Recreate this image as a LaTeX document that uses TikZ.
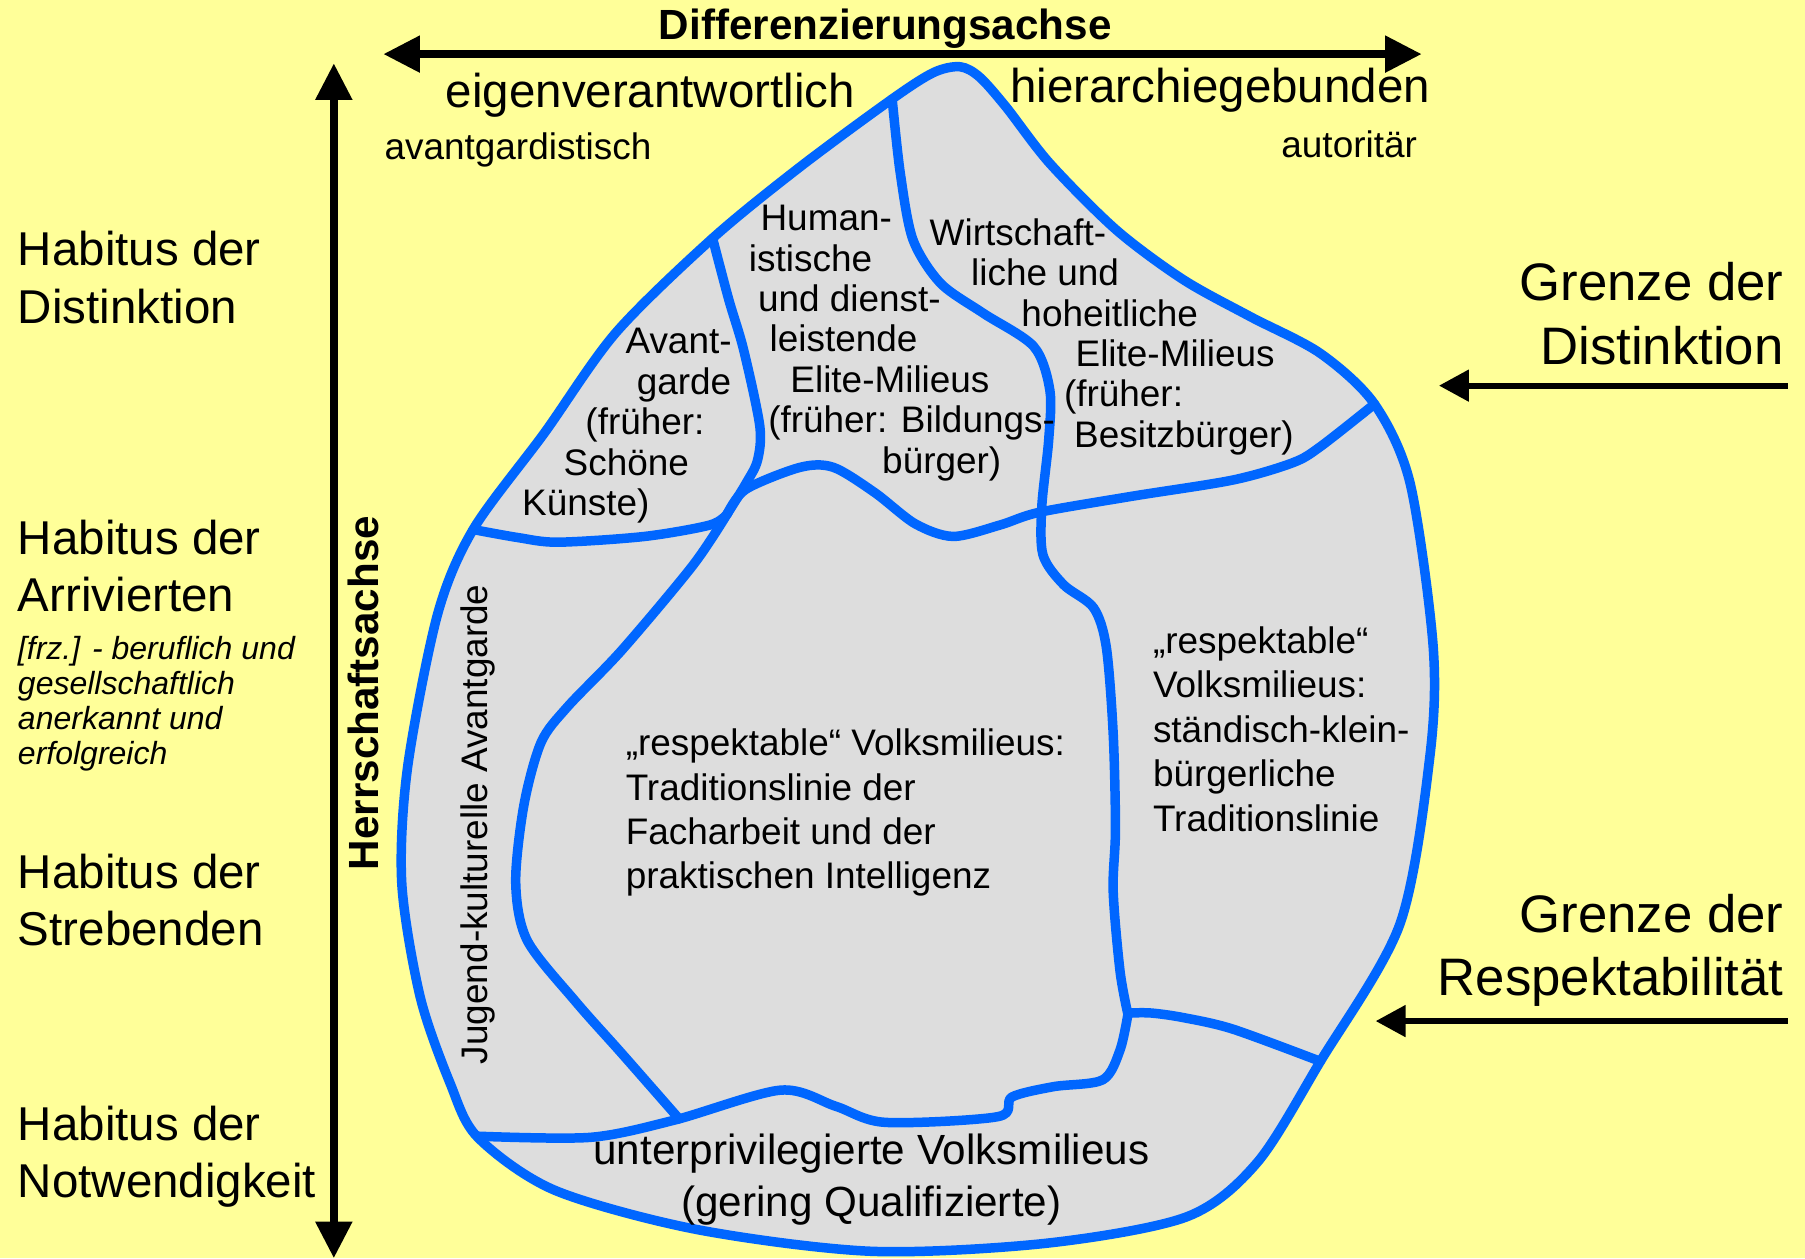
\documentclass[tikz,border=0pt]{standalone}
\usepackage{fontspec}
\setmainfont{Liberation Sans}
\usetikzlibrary{arrows.meta}
\definecolor{milieublue}{HTML}{0066FF}
\definecolor{leafgray}{HTML}{DDDDDD}
\definecolor{paper}{HTML}{FFFF99}

\begin{document}
\begin{tikzpicture}[x=0.011512cm,y=-0.011512cm,
    leaf/.style={fill=leafgray,draw=milieublue,line width=2.7pt,line join=round},
    border/.style={draw=milieublue,line width=2.7pt,line cap=round,line join=round},
    axis/.style={line width=2.2pt,{Triangle[length=10.4pt,width=10pt]}-{Triangle[length=10.4pt,width=10pt]}},
    limit/.style={line width=1.7pt,-{Triangle[length=8.5pt,width=8.7pt]}},
    habitus/.style={anchor=west,align=left,inner sep=0pt,font={\fontsize{13.5}{16.3}\selectfont}},
    grenze/.style={anchor=east,align=right,inner sep=0pt,font={\fontsize{15}{18}\selectfont}},
    milieu/.style={anchor=west,align=left,inner sep=0pt,font={\fontsize{10.5}{11.5}\selectfont}},
    axislabel/.style={inner sep=0pt,font={\fontsize{12}{14}\selectfont\bfseries}}]

    \fill[paper] (0,0) rectangle (1568,1093);
    \useasboundingbox (0,0) rectangle (1568,1093);

    \begin{scope}
    %leaf outline
    \path[leaf] plot[smooth cycle] coordinates {(775,86) (811,63) (834,58) (851,67) (874,93)
        (912,142) (970,200) (1028,243) (1086,275) (1147,307) (1194,351) (1225,420) (1245,562)
        (1242,658) (1216,803) (1147,922) (1092,1010) (1031,1057) (909,1080) (757,1087)
        (605,1068) (482,1034) (415,988) (391,941) (365,866) (349,767) (354,667) (380,534)
        (411,460) (473,376) (535,289) (619,207) (695,145)};

    %milieu borders
    \draw[border] plot[smooth] coordinates {(775,86) (782,150) (793,208) (817,246) (854,272)
        (898,301) (912,339) (911,382) (905,440) (906,482) (924,508) (950,528) (961,562)
        (967,637) (969,720) (967,774) (973,844) (980,882)};
    \draw[border] plot[smooth] coordinates {(619,207) (633,260) (646,304) (660,370) (658,400)
        (648,420) (632,446)};
    \draw[border] plot[smooth] coordinates {(411,460) (450,467) (485,471) (560,466) (617,456) (632,446)};
    \draw[border] plot[smooth] coordinates {(632,446) (602,491) (540,565) (493,614) (470,645)
        (455,700) (448,767) (458,817) (500,870) (540,915) (590,972)};
    \draw[border] plot[smooth] coordinates {(632,446) (648,425) (695,406) (724,406) (760,428)
        (795,455) (828,466) (869,456) (903,445) (984,431) (1071,417) (1123,402) (1147,388) (1194,351)};
    \draw[border] plot[smooth] coordinates {(415,987) (513,988) (586,973) (678,947) (726,961)
        (769,975) (867,970) (879,953) (915,944) (958,938) (973,912) (980,880)};
    \draw[border] plot[smooth] coordinates {(980,880) (1000,880) (1028,884) (1071,894) (1147,922)};
    \end{scope}

    %axes
    \coordinate (dl) at (333,47);
    \coordinate (dr) at (1235,47);
    \draw[axis] (dl) -- (dr);
    \node[axislabel] (dachse) at (769,25) {Differenzierungsachse};
    \coordinate (ht) at (290,55);
    \coordinate (hb) at (290,1093);
    \draw[axis] (ht) -- (hb);
    \node[axislabel,rotate=90] (hachse) at (316,602) {Herrschaftsachse};

    %poles of the horizontal axis
    \node[inner sep=0pt,font={\fontsize{13.5}{16}\selectfont}] (eigen) at (565,83) {eigenverantwortlich};
    \node[inner sep=0pt,font={\fontsize{13.5}{16}\selectfont}] (hier) at (1060,78) {hierarchiegebunden};
    \node[inner sep=0pt,font={\fontsize{10.5}{12}\selectfont}] (avg) at (450,130) {avantgardistisch};
    \node[inner sep=0pt,font={\fontsize{10.5}{12}\selectfont}] (auto) at (1172,125) {autoritär};

    %habitus
    \node[habitus] (hdist) at (15,241) {Habitus der\\Distinktion};
    \node[habitus] (harr) at (15,492) {Habitus der\\Arrivierten};
    \node[habitus,font={\fontsize{9.1}{9.9}\selectfont\itshape}] (hnote) at (15,611.5)
        {[frz.] - beruflich und\\gesellschaftlich\\anerkannt und\\erfolgreich};
    \node[habitus] (hstreb) at (15,782) {Habitus der\\Strebenden};
    \node[habitus] (hnot) at (15,1005) {Habitus der\\Notwendigkeit};

    %grenzen
    \node[grenze] (gdist) at (1550,272.5) {Grenze der\\Distinktion};
    \coordinate (gdtail) at (1553,335);
    \coordinate (gdtip) at (1250,335);
    \draw[limit] (gdtail) -- (gdtip);
    \node[grenze] (gresp) at (1550,825.5) {Grenze der\\Respektabilität};
    \coordinate (grtail) at (1553,887);
    \coordinate (grtip) at (1195,887);
    \draw[limit] (grtail) -- (grtip);

    %milieus
    \node[milieu] (avant) at (453,370) {\hspace*{29.4pt}Avant-\\\hspace*{32.6pt}garde\\
        \hspace*{18pt}(früher:\\\hspace*{11.8pt}Schöne\\Künste)};
    \node[milieu] (human) at (650,298) {\hspace*{3.3pt}Human-\\istische\\\hspace*{2.6pt}und dienst-\\
        \hspace*{5.9pt}leistende\\\hspace*{11.8pt}Elite-Milieus\\\hspace*{5.5pt}(früher: Bildungs-\\
        \hspace*{37.9pt}bürger)};
    \node[milieu] (wirt) at (807,292.5) {Wirtschaft-\\\hspace*{11.8pt}liche und\\
        \hspace*{26.1pt}hoheitliche\\\hspace*{41.5pt}Elite-Milieus\\\hspace*{38.2pt}(früher:\\
        \hspace*{41.1pt}Besitzbürger)};
    \node[milieu,font={\fontsize{10.5}{12.65}\selectfont}] (stand) at (1001,633.5)
        {„respektable“\\Volksmilieus:\\ständisch-klein-\\bürgerliche\\Traditionslinie};
    \node[milieu,font={\fontsize{10.5}{12.6}\selectfont}] (fach) at (543,706)
        {„respektable“ Volksmilieus:\\Traditionslinie der\\Facharbeit und der\\praktischen Intelligenz};
    \node[milieu,rotate=90,anchor=center] (jugend) at (415,716) {Jugend-kulturelle Avantgarde};
    \node[inner sep=0pt,align=center,font={\fontsize{12}{14.7}\selectfont}] (unter) at (757,1024.5)
        {unterprivilegierte Volksmilieus\\(gering Qualifizierte)};

\end{tikzpicture}
\end{document}
